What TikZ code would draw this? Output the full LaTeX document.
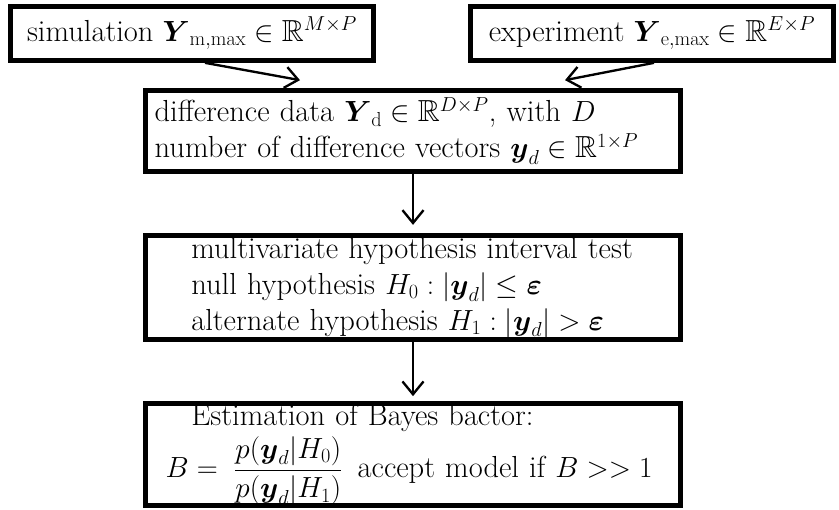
\documentclass[tikz,border=0pt]{standalone}
\usepackage{amsmath}
\usepackage{amssymb}
\usetikzlibrary{positioning,arrows.meta,calc}

\begin{document}
\begin{tikzpicture}[
    x=0.03cm, y=-0.03cm,
    font={\fontsize{26}{30.5}\selectfont},
    box/.style={draw, line width=4pt, inner xsep=8pt, inner ysep=2pt,
                align=left},
    arr/.style={-{Straight Barb[length=11pt, width=18pt]}, line width=2pt},
  ]
  \useasboundingbox (0,0) rectangle (839,510);

  % the two inputs
  \node[box, minimum width=363*0.03cm, minimum height=54*0.03cm] (sim) at (192,33.5)
    {simulation $\boldsymbol{Y}_{\mathrm{m,max}} \in \mathbb{R}^{M\times P}$};
  \node[box, minimum width=363*0.03cm, minimum height=54*0.03cm] (exp) at (652,33.5)
    {experiment $\boldsymbol{Y}_{\mathrm{e,max}} \in \mathbb{R}^{E\times P}$};

  % difference data, test, Bayes factor
  \node[box, text width=15.5cm, minimum height=81*0.03cm] (diff) at (413,131)
    {difference data $\boldsymbol{Y}_{\mathrm{d}} \in \mathbb{R}^{D\times P}$, with $D$\\
     number of difference vectors $\boldsymbol{y}_d \in \mathbb{R}^{1\times P}$};
  \node[box, text width=15.5cm, minimum height=104*0.03cm] (test) at (413,287.5)
    {\hspace*{1.1cm}multivariate hypothesis interval test\\
     \hspace*{1.1cm}null hypothesis $H_0 : |\boldsymbol{y}_d| \le \boldsymbol{\varepsilon}$\\
     \hspace*{1.1cm}alternate hypothesis $H_1 : |\boldsymbol{y}_d| > \boldsymbol{\varepsilon}$};
  \node[box, text width=15.5cm, minimum height=102*0.03cm, inner ysep=0pt] (bayes) at (413,454.5)
    {\hspace*{1.1cm}Estimation of Bayes bactor:\\[3pt]
     \hspace*{0.33cm}$B = \;\dfrac{p(\boldsymbol{y}_d|H_0)}{p(\boldsymbol{y}_d|H_1)}\,$ accept model if $B >> 1$};

  % connectors
  \coordinate (simend) at ($(diff.north)+(-113,-8)$);
  \coordinate (expend) at ($(diff.north)+(152,-8)$);
  \draw[arr] ($(sim.south)+(13,0)$) -- (simend);
  \draw[arr] ($(exp.south)+(2,0)$) -- (expend);
  \draw[arr, shorten >=8*0.03cm] (diff) -- (test);
  \draw[arr, shorten >=5*0.03cm] (test) -- (bayes);
\end{tikzpicture}
\end{document}
